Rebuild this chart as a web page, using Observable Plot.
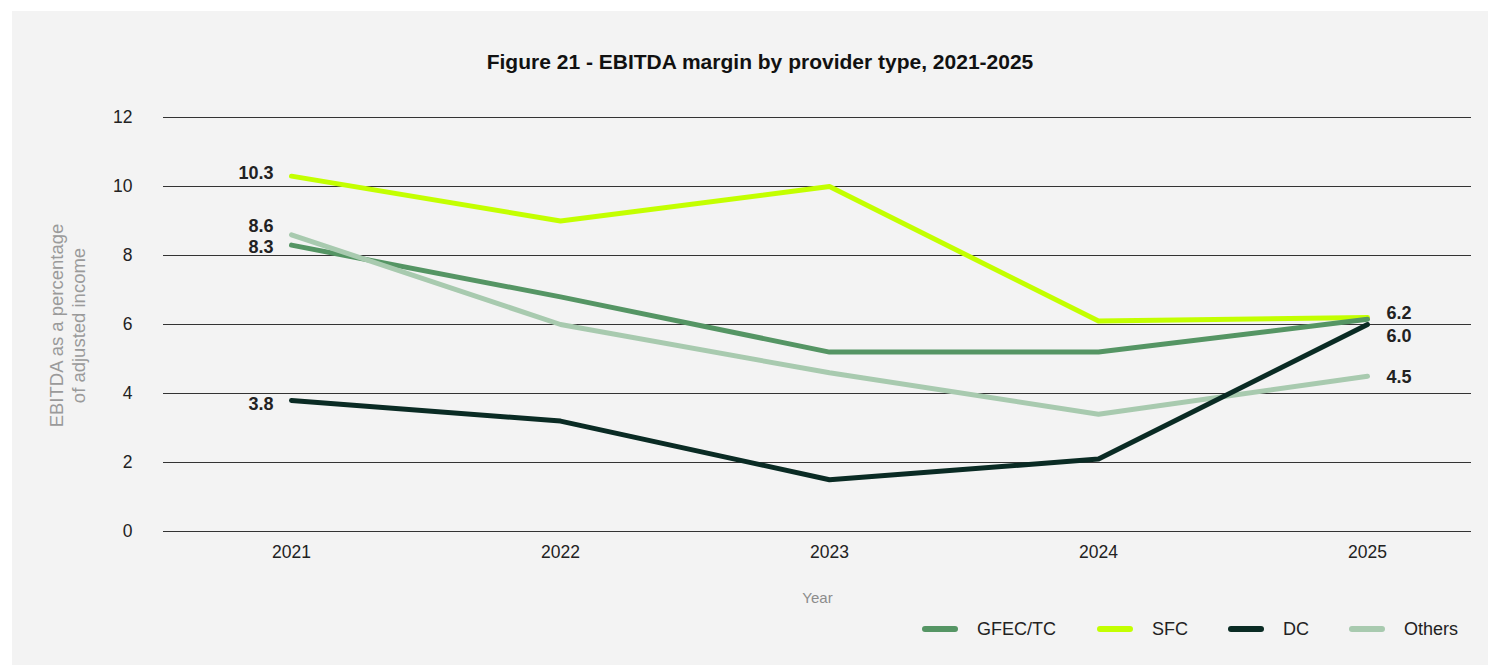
<!DOCTYPE html>
<html>
<head>
<meta charset="utf-8">
<script src="https://cdn.jsdelivr.net/npm/d3@7"></script>
<script src="https://cdn.jsdelivr.net/npm/@observablehq/plot@0.6"></script>
<style>
  html, body { margin: 0; padding: 0; background: #ffffff; }
  #card { position: absolute; left: 12px; top: 11px; width: 1476px; height: 654px; background: #f3f3f3; font-family: "Liberation Sans", Arial, sans-serif; }
  #title { position: absolute; left: 0; width: 1496px; top: 39px; text-align: center; font-weight: bold; font-size: 21px; color: #111; }
  #chart { position: absolute; left: 0; top: 0; }
  #legend { position: absolute; top: 0; left: 0; width: 100%; height: 100%; pointer-events: none; font-size: 18px; color: #222; }
  .sw { position: absolute; width: 36px; height: 6px; border-radius: 3px; }
  .lt { position: absolute; line-height: 1; }
</style>
</head>
<body>
<div id="card">
  <div id="title">Figure 21 - EBITDA margin by provider type, 2021-2025</div>
  <div id="chart"></div>
  <div id="legend"></div>
</div>
<script>
const years = [2021, 2022, 2023, 2024, 2025];
const seriesNames = ["GFEC/TC", "SFC", "DC", "Others"];
const seriesColors = ["#559564", "#c3ff00", "#0a2b24", "#a8caaf"];
const gfecTc = [8.3, 6.8, 5.2, 5.2, 6.15];
const sfc = [10.3, 9.0, 10.0, 6.1, 6.2];
const dc = [3.8, 3.2, 1.5, 2.1, 6.0];
const others = [8.6, 6.0, 4.6, 3.4, 4.5];
const yTicks = [0, 2, 4, 6, 8, 10, 12];
const startLabels = [["GFEC/TC", "8.3"], ["SFC", "10.3"], ["DC", "3.8"], ["Others", "8.6"]];
const endLabels = [["SFC", "6.2"], ["DC", "6.0"], ["Others", "4.5"]];

const valuesBySeries = {"GFEC/TC": gfecTc, "SFC": sfc, "DC": dc, "Others": others};
const drawOrder = ["SFC", "GFEC/TC", "Others", "DC"];
const rows = drawOrder.flatMap(s => years.map((yr, i) => ({series: s, year: yr, value: valuesBySeries[s][i]})));

const last = years.length - 1;
const startDy = {"SFC": -3, "GFEC/TC": 2, "Others": -9, "DC": 4};
const endDy = {"SFC": -4, "DC": 12, "Others": 1};

const labelMarks = [
  ...startLabels.map(([s, t]) => Plot.text([{year: years[0], value: valuesBySeries[s][0], text: t}],
    {x: "year", y: "value", text: "text", textAnchor: "end", dx: -18, dy: startDy[s], fontWeight: "bold", fontSize: 18, fill: "#222"})),
  ...endLabels.map(([s, t]) => Plot.text([{year: years[last], value: valuesBySeries[s][last], text: t}],
    {x: "year", y: "value", text: "text", textAnchor: "start", dx: 19, dy: endDy[s], fontWeight: "bold", fontSize: 18, fill: "#222"}))
];

const plot = Plot.plot({
  width: 1476,
  height: 600,
  marginLeft: 151,
  marginRight: 17,
  marginTop: 106,
  marginBottom: 80,
  style: {background: "transparent", fontFamily: "'Liberation Sans', Arial, sans-serif", fontSize: "17.5px", color: "#222"},
  x: {type: "point", domain: years, padding: 0.427, align: 0.552, label: null},
  y: {domain: [0, 12], label: null},
  color: {domain: seriesNames, range: seriesColors},
  marks: [
    Plot.ruleY(yTicks, {stroke: "#333", strokeWidth: 1}),
    Plot.axisY(yTicks, {tickSize: 0, tickPadding: 31, fontSize: 17.5, fill: "#222", label: null}),
    Plot.axisX(years, {tickSize: 0, tickPadding: 14, fontSize: 17.5, fill: "#222", label: null, tickFormat: d => String(d)}),
    Plot.text(["EBITDA as a percentage\nof adjusted income"], {frameAnchor: "left", textAnchor: "middle", rotate: -90, dx: -97, dy: 1, fontSize: 18.5, fill: "#9a9a9a", lineHeight: 1.2}),
    Plot.text(["Year"], {frameAnchor: "bottom", dy: 71, fontSize: 15, fill: "#8c8c8c"}),
    Plot.line(rows, {x: "year", y: "value", z: "series", stroke: "series", strokeWidth: 5, strokeLinecap: "round", strokeLinejoin: "round"}),
    ...labelMarks
  ]
});
document.getElementById("chart").appendChild(plot);

// legend (positions relative to the card)
const legend = document.getElementById("legend");
const swatchLeft = [910, 1085, 1216, 1337];
seriesNames.forEach((name, i) => {
  const sw = document.createElement("div");
  sw.className = "sw";
  sw.style.left = swatchLeft[i] + "px";
  sw.style.top = (629 - 11 - 3) + "px";
  sw.style.background = seriesColors[i];
  const label = document.createElement("span");
  label.className = "lt";
  label.textContent = name;
  label.style.left = (swatchLeft[i] + 55) + "px";
  label.style.top = (629 - 11 - 9) + "px";
  legend.appendChild(sw);
  legend.appendChild(label);
});
</script>
</body>
</html>
